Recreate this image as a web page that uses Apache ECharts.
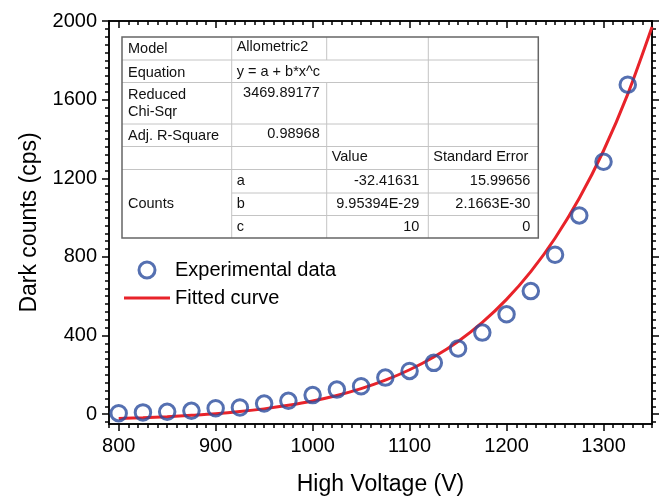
<!DOCTYPE html>
<html><head><meta charset="utf-8">
<script src="https://cdn.jsdelivr.net/npm/echarts@6/dist/echarts.min.js"></script>
<style>html,body{margin:0;padding:0;background:#fff}#c{width:663px;height:501px}</style>
</head><body><div id="c"></div>
<script>
// ---- data ----
const voltages   = [800, 825, 850, 875, 900, 925, 950, 975, 1000, 1025, 1050, 1075, 1100, 1125, 1150, 1175, 1200, 1225, 1250, 1275, 1300, 1325];
const darkCounts = [5, 9, 12, 17, 30, 34, 54, 68, 97, 125, 142, 186, 220, 261, 334, 415, 508, 626, 811, 1011, 1284, 1676];
const fitVoltages = [800, 825, 850, 875, 900, 925, 950, 975, 1000, 1025, 1050, 1075, 1100, 1125, 1150, 1175, 1200, 1225, 1250, 1275, 1300, 1325, 1350];
const fitCounts   = [-22, -18, -13, -6, 2, 13, 27, 45, 67, 95, 130, 173, 226, 291, 370, 467, 584, 725, 895, 1098, 1340, 1628, 1969];
const xTickLabels = [800, 900, 1000, 1100, 1200, 1300];
const yTickLabels = [0, 400, 800, 1200, 1600, 2000];
const seriesNames = ['Experimental data', 'Fitted curve'];
const xAxisTitle = 'High Voltage (V)';
const yAxisTitle = 'Dark counts (cps)';
// fit table
const tableModel = 'Allometric2';
const tableEquation = 'y = a + b*x^c';
const reducedChiSqr = '3469.89177';
const adjRSquare = '0.98968';
const paramDataset = 'Counts';
const paramNames = ['a', 'b', 'c'];
const paramValues = ['-32.41631', '9.95394E-29', '10'];
const paramErrors = ['15.99656', '2.1663E-30', '0'];

// ---- layout ----
const X_MIN = 790, X_MAX = 1350, Y_MIN = -50, Y_MAX = 2000;
const FONT = 'Arial, "Liberation Sans", Helvetica, sans-serif';
const xMinor = [], yMinor = [];
for (let v = X_MIN; v <= X_MAX; v += 10) if (!xTickLabels.includes(v)) xMinor.push(v);
for (let v = -40; v <= Y_MAX; v += 40) if (!yTickLabels.includes(v)) yMinor.push(v);
const plain = v => String(v);

const axisColor = '#000';
function xAx(pos, ticks, len, inside, labels) {
  return {
    type: 'value', min: X_MIN, max: X_MAX, position: pos,
    axisLine: { show: true, onZero: false, lineStyle: { color: axisColor, width: 1.5 } },
    axisTick: { show: true, customValues: ticks, length: len, inside: inside, lineStyle: { color: axisColor, width: 1.5 } },
    axisLabel: labels ? { show: true, customValues: xTickLabels, formatter: plain, margin: 12, fontSize: 20, fontFamily: FONT, color: '#000' } : { show: false },
    splitLine: { show: false }
  };
}
function yAx(pos, ticks, len, inside, labels) {
  return {
    type: 'value', min: Y_MIN, max: Y_MAX, position: pos,
    axisLine: { show: true, onZero: false, lineStyle: { color: axisColor, width: 1.5 } },
    axisTick: { show: true, customValues: ticks, length: len, inside: inside, lineStyle: { color: axisColor, width: 1.5 } },
    axisLabel: labels ? { show: true, customValues: yTickLabels, formatter: plain, margin: 12, fontSize: 20, fontFamily: FONT, color: '#000' } : { show: false },
    splitLine: { show: false }
  };
}
const xAxes = [
  Object.assign(xAx('bottom', xTickLabels, 7, false, true), {
    name: xAxisTitle, nameLocation: 'middle', nameGap: 49,
    nameTextStyle: { fontSize: 23, fontFamily: FONT, color: '#000' }
  }),
  xAx('bottom', xMinor, 4, false, false),
  xAx('top', xTickLabels, 7, true, false),
  xAx('top', xMinor, 4, true, false)
];
const yAxes = [
  Object.assign(yAx('left', yTickLabels, 7, false, true), {
    name: yAxisTitle, nameLocation: 'middle', nameGap: 57, nameRotate: 90,
    nameTextStyle: { fontSize: 23, fontFamily: FONT, color: '#000' }
  }),
  yAx('left', yMinor, 4, false, false),
  yAx('right', yTickLabels, 7, false, false),
  yAx('right', yMinor, 4, false, false)
];

// ---- fit table as graphic ----
const T = { cols: [122, 231.7, 326.7, 428.3, 538.3], rows: [37, 60, 82.5, 124, 146.5, 169.5, 193, 215.5, 238] };
const g = [];
const lineC = '#c4c4c4';
g.push({ type: 'rect', shape: { x: T.cols[0], y: T.rows[0], width: T.cols[4] - T.cols[0], height: T.rows[8] - T.rows[0] },
  style: { fill: '#fff', stroke: 'none' }, z: 100 });
function hl(y, x1, x2) { g.push({ type: 'line', shape: { x1: x1, y1: y, x2: x2, y2: y }, style: { stroke: lineC, lineWidth: 1 }, z: 101 }); }
function vl(x, y1, y2) { g.push({ type: 'line', shape: { x1: x, y1: y1, x2: x, y2: y2 }, style: { stroke: lineC, lineWidth: 1 }, z: 101 }); }
for (let i = 1; i <= 5; i++) hl(T.rows[i], T.cols[0], T.cols[4]);
hl(T.rows[6], T.cols[1], T.cols[4]); hl(T.rows[7], T.cols[1], T.cols[4]);
vl(T.cols[1], T.rows[0], T.rows[8]);
vl(T.cols[2], T.rows[0], T.rows[1]); vl(T.cols[2], T.rows[2], T.rows[8]);
vl(T.cols[3], T.rows[0], T.rows[8]);
g.push({ type: 'rect', shape: { x: T.cols[0], y: T.rows[0], width: T.cols[4] - T.cols[0], height: T.rows[8] - T.rows[0] },
  style: { fill: 'none', stroke: '#666', lineWidth: 1.5 }, z: 102 });
function txt(s, x, y, align) {
  g.push({ type: 'text', x: x, y: y, z: 103,
    style: { text: s, fontSize: 14.5, fontFamily: FONT, fill: '#111', align: align || 'left', verticalAlign: 'middle' } });
}
const L1 = T.cols[0] + 6, L2 = T.cols[1] + 5;
txt('Model', L1, 49); txt(tableModel, L2, 47);
txt('Equation', L1, 72.5); txt(tableEquation, L2, 71.5);
txt('Reduced', L1, 95); txt('Chi-Sqr', L1, 111.5); txt(reducedChiSqr, T.cols[2] - 7, 92.5, 'right');
txt('Adj. R-Square', L1, 136); txt(adjRSquare, T.cols[2] - 7, 133.5, 'right');
txt('Value', T.cols[2] + 5, 157); txt('Standard Error', T.cols[3] + 5, 157);
txt(paramDataset, L1, 204);
const pr = [181, 204, 226.5];
paramNames.forEach((n, i) => {
  txt(n, L2, pr[i]);
  txt(paramValues[i], T.cols[3] - 9, pr[i], 'right');
  txt(paramErrors[i], T.cols[4] - 8, pr[i], 'right');
});

const blue = '#2b4c9e', red = '#e8232a';
const ringStyle = { color: 'rgba(255,255,255,0)', borderColor: blue, borderWidth: 3 };
const option = {
  animation: false,
  backgroundColor: '#fff',
  grid: { left: 109, right: 11, top: 21, bottom: 76, containLabel: false },
  xAxis: xAxes,
  yAxis: yAxes,
  legend: {
    orient: 'vertical', left: 124, top: 260, itemWidth: 46, itemHeight: 16, itemGap: 8, padding: 0,
    textStyle: { fontSize: 20, fontFamily: FONT, color: '#000' },
    data: [
      { name: seriesNames[0], icon: 'circle', itemStyle: ringStyle },
      { name: seriesNames[1], icon: 'path://M0,0 L46,0 L46,3 L0,3 Z', itemStyle: { color: red, borderWidth: 0 } }
    ]
  },
  series: [
    {
      name: seriesNames[1], type: 'line', xAxisIndex: 0, yAxisIndex: 0, z: 3,
      data: fitVoltages.map((v, i) => [v, fitCounts[i]]),
      smooth: 0.3, symbol: 'none', showSymbol: false,
      lineStyle: { color: red, width: 3 }, itemStyle: { color: red }
    },
    {
      name: seriesNames[0], type: 'scatter', xAxisIndex: 0, yAxisIndex: 0, z: 4,
      data: voltages.map((v, i) => [v, darkCounts[i]]),
      symbol: 'circle', symbolSize: 15.5,
      itemStyle: ringStyle
    }
  ],
  graphic: g
};
const chart = echarts.init(document.getElementById('c'), null, { renderer: 'canvas' });
chart.setOption(option);
</script></body></html>
